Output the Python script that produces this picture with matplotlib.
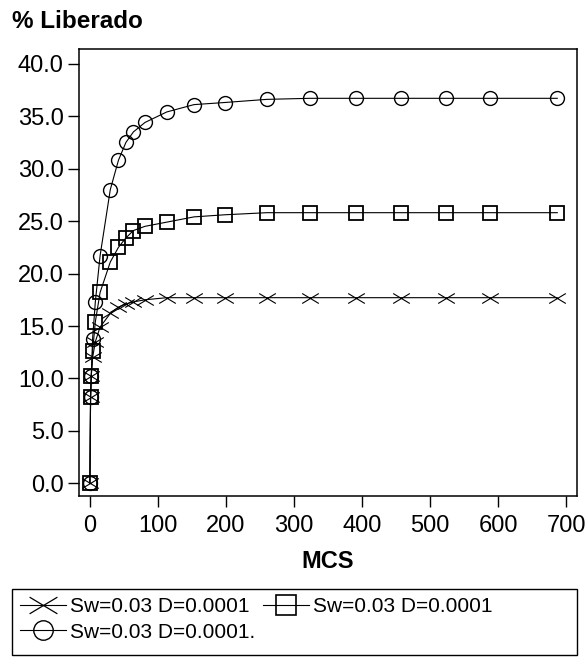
import matplotlib
matplotlib.use("Agg")
import matplotlib.pyplot as plt
from matplotlib.lines import Line2D
from matplotlib.patches import Rectangle
from matplotlib.path import Path

plt.rcParams['font.family'] = ['Liberation Sans', 'DejaVu Sans']

# MCS steps shared by all three series
mcs = [0, 1, 2, 4, 8, 15, 30, 42, 53, 64, 81, 113, 153, 198,
       260, 323, 391, 457, 524, 588, 687]

# % released for each run
liberado_x = [0, 8.2, 10.2, 12.0, 13.5, 14.9, 16.2, 16.8, 17.1, 17.3, 17.5,
              17.7, 17.7, 17.7, 17.7, 17.7, 17.7, 17.7, 17.7, 17.7, 17.7]
liberado_sq = [0, 8.2, 10.2, 12.6, 15.4, 18.2, 21.1, 22.5, 23.4, 24.1, 24.5,
               24.9, 25.4, 25.6, 25.8, 25.8, 25.8, 25.8, 25.8, 25.8, 25.8]
liberado_o = [0, 8.2, 10.2, 13.8, 17.3, 21.7, 28.0, 30.8, 32.5, 33.5, 34.4,
              35.4, 36.1, 36.3, 36.6, 36.7, 36.7, 36.7, 36.7, 36.7, 36.7]

labels = ["Sw=0.03 D=0.0001", "Sw=0.03 D=0.0001", "Sw=0.03 D=0.0001."]
yticks = [0, 5, 10, 15, 20, 25, 30, 35, 40]
xticks = [0, 100, 200, 300, 400, 500, 600, 700]

W, H = 585, 661

# a flattened cross marker
wide_x = Path([(-1, -0.6), (1, 0.6), (-1, 0.6), (1, -0.6)],
              [Path.MOVETO, Path.LINETO, Path.MOVETO, Path.LINETO])

fig = plt.figure(figsize=(W / 100, H / 100), dpi=100)
ax = fig.add_axes([79 / W, 1 - 496 / H, (577 - 79) / W, (496 - 49) / H])

line_kw = dict(color='black', lw=0.8, mfc='none', mec='black')
ax.plot(mcs, liberado_x, marker=wide_x, ms=12, mew=0.8, **line_kw)
ax.plot(mcs, liberado_sq, marker='s', ms=9.5, mew=1.3, **line_kw)
ax.plot(mcs, liberado_o, marker='o', ms=10, mew=1.0, **line_kw)

ax.set_xlim(-16, 716)
ax.set_ylim(-1.2, 41.4)
ax.set_xticks(xticks)
ax.set_yticks(yticks)
ax.set_yticklabels([f"{v:.1f}" for v in yticks])
ax.tick_params(direction='out', length=8, width=1, labelsize=17, pad=3)
ax.tick_params(axis='x', pad=6)
for s in ax.spines.values():
    s.set_linewidth(1.1)

ax.set_xlabel("MCS", fontsize=17, fontweight='bold', labelpad=9)
fig.text(12 / W, 1 - 22 / H, "% Liberado", fontsize=17.5, fontweight='bold',
         ha='left', va='center')

h_x = Line2D([], [], marker=wide_x, ms=20, mew=0.9, **line_kw)
h_sq = Line2D([], [], marker='s', ms=14, mew=1.2, **line_kw)
h_o = Line2D([], [], marker='o', ms=14, mew=1.0, **line_kw)
# column-major fill: first column holds the cross and circle rows
leg = fig.legend([h_x, h_o, h_sq], [labels[0], labels[2], labels[1]],
                 ncol=2, loc='upper left',
                 bbox_to_anchor=(12 / W, 1 - 589 / H), fontsize=15,
                 frameon=False,
                 handlelength=2.2, handletextpad=0.2, columnspacing=0.35,
                 labelspacing=0.3, borderpad=0.4, borderaxespad=0)

# legend box spanning the plot width
fig.patches.append(Rectangle((12 / W, 1 - 655 / H), (577 - 12) / W, (655 - 589) / H,
                             transform=fig.transFigure, fill=False,
                             edgecolor='black', lw=1.0))

fig.savefig("out.png", dpi=100)
